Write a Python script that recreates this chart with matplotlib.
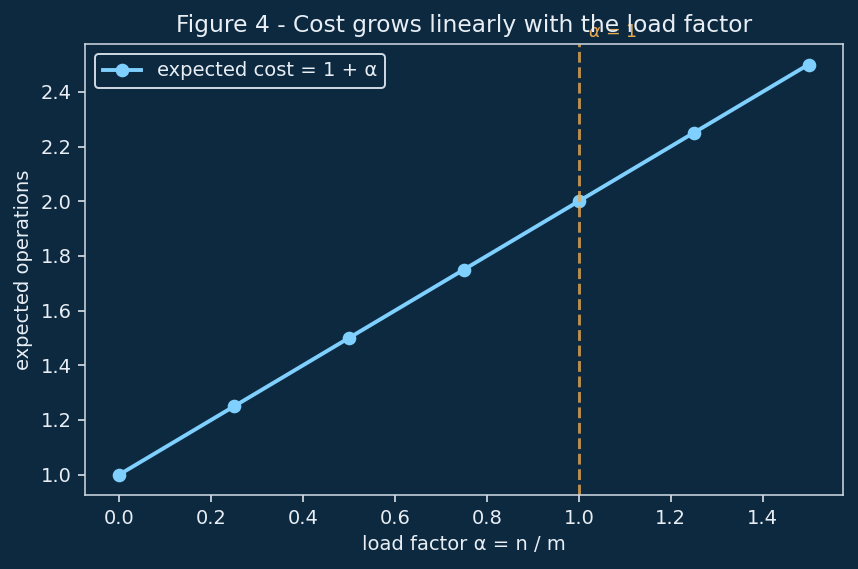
import matplotlib
matplotlib.use("Agg")
import matplotlib.pyplot as plt

alpha_vals = [0.0, 0.25, 0.5, 0.75, 1.0, 1.25, 1.5]
expected_cost = [1.0, 1.25, 1.5, 1.75, 2.0, 2.25, 2.5]

BG = "#0c2940"
FG = "#e8eef4"
LINE = "#7fd0ff"
ORANGE = "#e8a850"

fig, ax = plt.subplots(figsize=(858 / 140, 569 / 140), dpi=140)
fig.patch.set_facecolor(BG)
ax.set_facecolor(BG)

ax.plot(alpha_vals, expected_cost, marker="o", color=LINE, linewidth=2,
        markersize=6, label="expected cost = 1 + α")
ax.axvline(1.0, color=ORANGE, linestyle="--", linewidth=1.5, alpha=0.8)
ax.text(1.02, 2.6, r"$\alpha$ = 1", color=ORANGE, fontsize=9)

ax.set_title("Figure 4 - Cost grows linearly with the load factor", color=FG, fontsize=12)
ax.set_xlabel("load factor α = n / m", color=FG)
ax.set_ylabel("expected operations", color=FG)
ax.tick_params(colors=FG)
for s in ax.spines.values():
    s.set_color("#d0dae4")

leg = ax.legend(loc="upper left", facecolor=BG, edgecolor="#d0dae4", framealpha=1)
for t in leg.get_texts():
    t.set_color(FG)

fig.subplots_adjust(left=85 / 858, right=843 / 858, top=1 - 44 / 569, bottom=1 - 495 / 569)
fig.savefig("out.png", facecolor=BG)
